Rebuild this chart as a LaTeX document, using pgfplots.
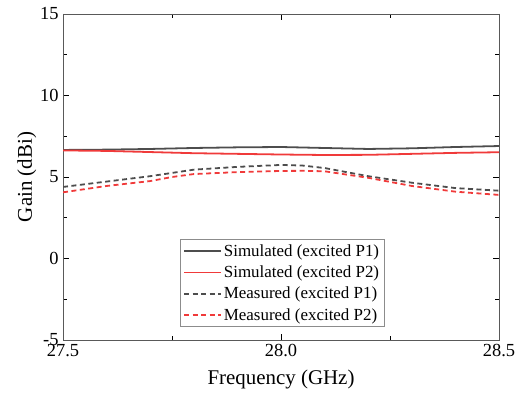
\documentclass[border=0pt]{standalone}
\usepackage{pgfplots}
\pgfplotsset{compat=1.18}
\usepackage{fontspec}
\setmainfont{Liberation Serif}
\definecolor{simgray}{HTML}{4D4D4D}
\definecolor{simred}{HTML}{F03A3A}
\begin{document}
\begin{tikzpicture}
\begin{axis}[
  scale only axis,
  width=436bp, height=326bp,
  xmin=27.5, xmax=28.5, ymin=-5, ymax=15,
  xtick={27.5,28.0,28.5}, xticklabels={27.5,28.0,28.5},
  ytick={-5,0,5,10,15}, yticklabels={-5,0,5,10,15},
  minor xtick={27.75,28.25}, minor ytick={-2.5,2.5,7.5,12.5},
  tick align=inside,
  major tick length=6bp, minor tick length=4bp,
  every tick/.style={black, line width=0.8pt},
  axis line style={line width=0.9pt, draw=black!65},
  tick label style={font=\fontsize{18.5}{18.5}\selectfont},
  xticklabel style={yshift=-1bp},
  yticklabel style={xshift=-1bp},
  xlabel={Frequency (GHz)}, ylabel={Gain (dBi)},
  label style={font=\fontsize{21}{21}\selectfont},
  xlabel style={yshift=-6bp},
  ylabel style={yshift=-3bp},
  legend style={at={(0.268,0.04)}, anchor=south west,
    font=\fontsize{17}{18}\selectfont, draw=black!45, line width=0.8pt,
    row sep=4bp, inner xsep=3bp, inner ysep=3bp,
    /tikz/every even column/.style={column sep=1bp}},
  legend cell align=left,
  legend image code/.code={\draw[#1] (0cm,0cm) -- (1.3cm,0cm);},
]
\addplot[simgray, line width=1.8pt] coordinates {
(27.5,6.66) (27.6,6.68) (27.7,6.72) (27.8,6.78) (27.9,6.82) (28.0,6.84)
(28.1,6.78) (28.2,6.72) (28.3,6.76) (28.4,6.84) (28.5,6.90)};
\addlegendentry{Simulated (excited P1)}
\addplot[simred, line width=1.8pt] coordinates {
(27.5,6.63) (27.6,6.60) (27.7,6.53) (27.8,6.46) (27.9,6.42) (28.0,6.38)
(28.1,6.35) (28.2,6.36) (28.3,6.42) (28.4,6.48) (28.5,6.52)};
\addlegendentry{Simulated (excited P2)}
\addplot[simgray, line width=1.8pt, dash pattern=on 5bp off 3.5bp] coordinates {
(27.5,4.39) (27.6,4.72) (27.7,5.05) (27.75,5.25) (27.8,5.45) (27.9,5.62) (28.0,5.74)
(28.05,5.70) (28.1,5.55) (28.2,5.05) (28.3,4.65) (28.4,4.32) (28.5,4.16)};
\addlegendentry{Measured (excited P1)}
\addplot[simred, line width=1.8pt, dash pattern=on 5bp off 3.5bp] coordinates {
(27.5,4.06) (27.6,4.45) (27.7,4.75) (27.75,5.00) (27.8,5.18) (27.9,5.30) (28.0,5.37)
(28.05,5.38) (28.1,5.35) (28.2,4.95) (28.3,4.45) (28.4,4.10) (28.5,3.90)};
\addlegendentry{Measured (excited P2)}
\end{axis}
\pgfresetboundingbox
\path[use as bounding box] ([shift={(-63bp,-61bp)}]current axis.south west) rectangle ([shift={(30bp,14bp)}]current axis.north east);
\end{tikzpicture}
\end{document}
